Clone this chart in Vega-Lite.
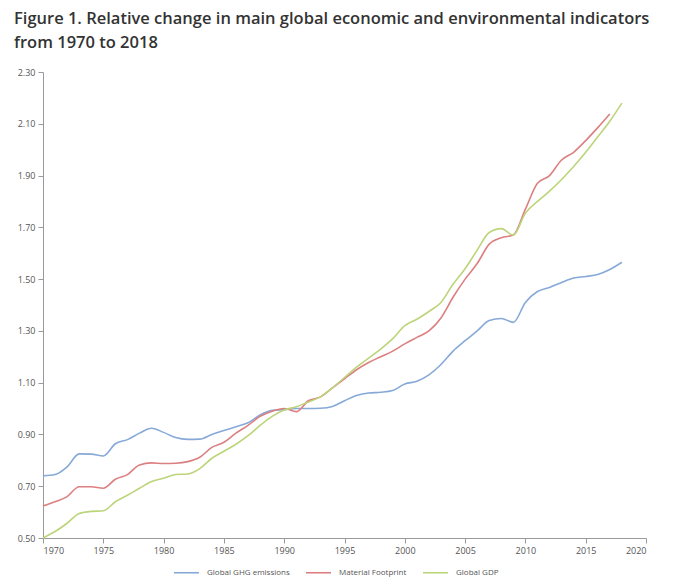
{
  "$schema": "https://vega.github.io/schema/vega-lite/v6.json",
  "width": 603,
  "height": 466,
  "autosize": {"type": "none"},
  "padding": {"left": 43, "top": 72, "right": 53, "bottom": 50},
  "background": "white",
  "title": {
    "text": ["Figure 1. Relative change in main global economic and environmental indicators", "from 1970 to 2018"],
    "anchor": "start",
    "frame": "group",
    "dx": -29,
    "offset": 17,
    "font": "Open Sans",
    "fontSize": 16.5,
    "fontWeight": 600,
    "lineHeight": 24,
    "color": "#333333"
  },
  "config": {
    "view": {"stroke": null},
    "axis": {
      "grid": false,
      "domainColor": "#9a9a9a",
      "tickColor": "#9a9a9a",
      "tickSize": 5,
      "labelFont": "Open Sans",
      "labelFontSize": 9,
      "labelColor": "#555555",
      "title": null
    },
    "legend": {
      "labelFont": "Open Sans",
      "labelFontSize": 8,
      "labelColor": "#555555"
    }
  },
  "data": {
    "values": [
      {"year": 1970, "series": "Global GHG emissions", "value": 0.740},
      {"year": 1971, "series": "Global GHG emissions", "value": 0.745},
      {"year": 1972, "series": "Global GHG emissions", "value": 0.775},
      {"year": 1973, "series": "Global GHG emissions", "value": 0.825},
      {"year": 1974, "series": "Global GHG emissions", "value": 0.824},
      {"year": 1975, "series": "Global GHG emissions", "value": 0.817},
      {"year": 1976, "series": "Global GHG emissions", "value": 0.864},
      {"year": 1977, "series": "Global GHG emissions", "value": 0.880},
      {"year": 1978, "series": "Global GHG emissions", "value": 0.905},
      {"year": 1979, "series": "Global GHG emissions", "value": 0.924},
      {"year": 1980, "series": "Global GHG emissions", "value": 0.908},
      {"year": 1981, "series": "Global GHG emissions", "value": 0.888},
      {"year": 1982, "series": "Global GHG emissions", "value": 0.881},
      {"year": 1983, "series": "Global GHG emissions", "value": 0.882},
      {"year": 1984, "series": "Global GHG emissions", "value": 0.900},
      {"year": 1985, "series": "Global GHG emissions", "value": 0.915},
      {"year": 1986, "series": "Global GHG emissions", "value": 0.930},
      {"year": 1987, "series": "Global GHG emissions", "value": 0.945},
      {"year": 1988, "series": "Global GHG emissions", "value": 0.975},
      {"year": 1989, "series": "Global GHG emissions", "value": 0.993},
      {"year": 1990, "series": "Global GHG emissions", "value": 0.996},
      {"year": 1991, "series": "Global GHG emissions", "value": 1.000},
      {"year": 1992, "series": "Global GHG emissions", "value": 1.000},
      {"year": 1993, "series": "Global GHG emissions", "value": 1.001},
      {"year": 1994, "series": "Global GHG emissions", "value": 1.008},
      {"year": 1995, "series": "Global GHG emissions", "value": 1.030},
      {"year": 1996, "series": "Global GHG emissions", "value": 1.050},
      {"year": 1997, "series": "Global GHG emissions", "value": 1.060},
      {"year": 1998, "series": "Global GHG emissions", "value": 1.063},
      {"year": 1999, "series": "Global GHG emissions", "value": 1.070},
      {"year": 2000, "series": "Global GHG emissions", "value": 1.095},
      {"year": 2001, "series": "Global GHG emissions", "value": 1.105},
      {"year": 2002, "series": "Global GHG emissions", "value": 1.130},
      {"year": 2003, "series": "Global GHG emissions", "value": 1.170},
      {"year": 2004, "series": "Global GHG emissions", "value": 1.222},
      {"year": 2005, "series": "Global GHG emissions", "value": 1.262},
      {"year": 2006, "series": "Global GHG emissions", "value": 1.300},
      {"year": 2007, "series": "Global GHG emissions", "value": 1.340},
      {"year": 2008, "series": "Global GHG emissions", "value": 1.348},
      {"year": 2009, "series": "Global GHG emissions", "value": 1.333},
      {"year": 2010, "series": "Global GHG emissions", "value": 1.410},
      {"year": 2011, "series": "Global GHG emissions", "value": 1.452},
      {"year": 2012, "series": "Global GHG emissions", "value": 1.468},
      {"year": 2013, "series": "Global GHG emissions", "value": 1.487},
      {"year": 2014, "series": "Global GHG emissions", "value": 1.504},
      {"year": 2015, "series": "Global GHG emissions", "value": 1.510},
      {"year": 2016, "series": "Global GHG emissions", "value": 1.518},
      {"year": 2017, "series": "Global GHG emissions", "value": 1.537},
      {"year": 2018, "series": "Global GHG emissions", "value": 1.565},
      {"year": 1970, "series": "Material Footprint", "value": 0.624},
      {"year": 1971, "series": "Material Footprint", "value": 0.640},
      {"year": 1972, "series": "Material Footprint", "value": 0.660},
      {"year": 1973, "series": "Material Footprint", "value": 0.698},
      {"year": 1974, "series": "Material Footprint", "value": 0.698},
      {"year": 1975, "series": "Material Footprint", "value": 0.692},
      {"year": 1976, "series": "Material Footprint", "value": 0.727},
      {"year": 1977, "series": "Material Footprint", "value": 0.745},
      {"year": 1978, "series": "Material Footprint", "value": 0.782},
      {"year": 1979, "series": "Material Footprint", "value": 0.790},
      {"year": 1980, "series": "Material Footprint", "value": 0.788},
      {"year": 1981, "series": "Material Footprint", "value": 0.789},
      {"year": 1982, "series": "Material Footprint", "value": 0.795},
      {"year": 1983, "series": "Material Footprint", "value": 0.812},
      {"year": 1984, "series": "Material Footprint", "value": 0.850},
      {"year": 1985, "series": "Material Footprint", "value": 0.870},
      {"year": 1986, "series": "Material Footprint", "value": 0.905},
      {"year": 1987, "series": "Material Footprint", "value": 0.935},
      {"year": 1988, "series": "Material Footprint", "value": 0.970},
      {"year": 1989, "series": "Material Footprint", "value": 0.990},
      {"year": 1990, "series": "Material Footprint", "value": 1.000},
      {"year": 1991, "series": "Material Footprint", "value": 0.988},
      {"year": 1992, "series": "Material Footprint", "value": 1.030},
      {"year": 1993, "series": "Material Footprint", "value": 1.045},
      {"year": 1994, "series": "Material Footprint", "value": 1.080},
      {"year": 1995, "series": "Material Footprint", "value": 1.115},
      {"year": 1996, "series": "Material Footprint", "value": 1.150},
      {"year": 1997, "series": "Material Footprint", "value": 1.178},
      {"year": 1998, "series": "Material Footprint", "value": 1.200},
      {"year": 1999, "series": "Material Footprint", "value": 1.222},
      {"year": 2000, "series": "Material Footprint", "value": 1.250},
      {"year": 2001, "series": "Material Footprint", "value": 1.275},
      {"year": 2002, "series": "Material Footprint", "value": 1.300},
      {"year": 2003, "series": "Material Footprint", "value": 1.350},
      {"year": 2004, "series": "Material Footprint", "value": 1.430},
      {"year": 2005, "series": "Material Footprint", "value": 1.500},
      {"year": 2006, "series": "Material Footprint", "value": 1.560},
      {"year": 2007, "series": "Material Footprint", "value": 1.635},
      {"year": 2008, "series": "Material Footprint", "value": 1.660},
      {"year": 2009, "series": "Material Footprint", "value": 1.670},
      {"year": 2010, "series": "Material Footprint", "value": 1.770},
      {"year": 2011, "series": "Material Footprint", "value": 1.870},
      {"year": 2012, "series": "Material Footprint", "value": 1.900},
      {"year": 2013, "series": "Material Footprint", "value": 1.960},
      {"year": 2014, "series": "Material Footprint", "value": 1.990},
      {"year": 2015, "series": "Material Footprint", "value": 2.035},
      {"year": 2016, "series": "Material Footprint", "value": 2.085},
      {"year": 2017, "series": "Material Footprint", "value": 2.138},
      {"year": 1970, "series": "Global GDP", "value": 0.500},
      {"year": 1971, "series": "Global GDP", "value": 0.525},
      {"year": 1972, "series": "Global GDP", "value": 0.557},
      {"year": 1973, "series": "Global GDP", "value": 0.595},
      {"year": 1974, "series": "Global GDP", "value": 0.603},
      {"year": 1975, "series": "Global GDP", "value": 0.605},
      {"year": 1976, "series": "Global GDP", "value": 0.640},
      {"year": 1977, "series": "Global GDP", "value": 0.665},
      {"year": 1978, "series": "Global GDP", "value": 0.692},
      {"year": 1979, "series": "Global GDP", "value": 0.718},
      {"year": 1980, "series": "Global GDP", "value": 0.731},
      {"year": 1981, "series": "Global GDP", "value": 0.745},
      {"year": 1982, "series": "Global GDP", "value": 0.747},
      {"year": 1983, "series": "Global GDP", "value": 0.768},
      {"year": 1984, "series": "Global GDP", "value": 0.808},
      {"year": 1985, "series": "Global GDP", "value": 0.835},
      {"year": 1986, "series": "Global GDP", "value": 0.862},
      {"year": 1987, "series": "Global GDP", "value": 0.895},
      {"year": 1988, "series": "Global GDP", "value": 0.935},
      {"year": 1989, "series": "Global GDP", "value": 0.970},
      {"year": 1990, "series": "Global GDP", "value": 0.994},
      {"year": 1991, "series": "Global GDP", "value": 1.007},
      {"year": 1992, "series": "Global GDP", "value": 1.025},
      {"year": 1993, "series": "Global GDP", "value": 1.045},
      {"year": 1994, "series": "Global GDP", "value": 1.080},
      {"year": 1995, "series": "Global GDP", "value": 1.120},
      {"year": 1996, "series": "Global GDP", "value": 1.160},
      {"year": 1997, "series": "Global GDP", "value": 1.195},
      {"year": 1998, "series": "Global GDP", "value": 1.230},
      {"year": 1999, "series": "Global GDP", "value": 1.270},
      {"year": 2000, "series": "Global GDP", "value": 1.320},
      {"year": 2001, "series": "Global GDP", "value": 1.345},
      {"year": 2002, "series": "Global GDP", "value": 1.375},
      {"year": 2003, "series": "Global GDP", "value": 1.410},
      {"year": 2004, "series": "Global GDP", "value": 1.480},
      {"year": 2005, "series": "Global GDP", "value": 1.540},
      {"year": 2006, "series": "Global GDP", "value": 1.612},
      {"year": 2007, "series": "Global GDP", "value": 1.680},
      {"year": 2008, "series": "Global GDP", "value": 1.695},
      {"year": 2009, "series": "Global GDP", "value": 1.670},
      {"year": 2010, "series": "Global GDP", "value": 1.755},
      {"year": 2011, "series": "Global GDP", "value": 1.800},
      {"year": 2012, "series": "Global GDP", "value": 1.840},
      {"year": 2013, "series": "Global GDP", "value": 1.885},
      {"year": 2014, "series": "Global GDP", "value": 1.935},
      {"year": 2015, "series": "Global GDP", "value": 1.990},
      {"year": 2016, "series": "Global GDP", "value": 2.050},
      {"year": 2017, "series": "Global GDP", "value": 2.110},
      {"year": 2018, "series": "Global GDP", "value": 2.180}
    ]
  },
  "mark": {"type": "line", "interpolate": "monotone", "strokeWidth": 1.6},
  "encoding": {
    "x": {
      "field": "year",
      "type": "quantitative",
      "scale": {"domain": [1970, 2020], "nice": false, "zero": false},
      "axis": {"values": [1970, 1975, 1980, 1985, 1990, 1995, 2000, 2005, 2010, 2015, 2020], "format": "d", "labelPadding": 3}
    },
    "y": {
      "field": "value",
      "type": "quantitative",
      "scale": {"domain": [0.5, 2.3], "nice": false, "zero": false},
      "axis": {"values": [0.5, 0.7, 0.9, 1.1, 1.3, 1.5, 1.7, 1.9, 2.1, 2.3], "format": ".2f", "labelPadding": 3}
    },
    "color": {
      "field": "series",
      "type": "nominal",
      "sort": ["Global GHG emissions", "Material Footprint", "Global GDP"],
      "scale": {
        "domain": ["Global GHG emissions", "Material Footprint", "Global GDP"],
        "range": ["#86a9d8", "#dc7f80", "#bcd47a"]
      },
      "legend": {
        "title": null,
        "orient": "none",
        "direction": "horizontal",
        "legendX": 130,
        "legendY": 487,
        "symbolType": "stroke",
        "symbolSize": 625,
        "symbolStrokeWidth": 1.6,
        "labelOffset": 7,
        "columnPadding": 12
      }
    }
  }
}
